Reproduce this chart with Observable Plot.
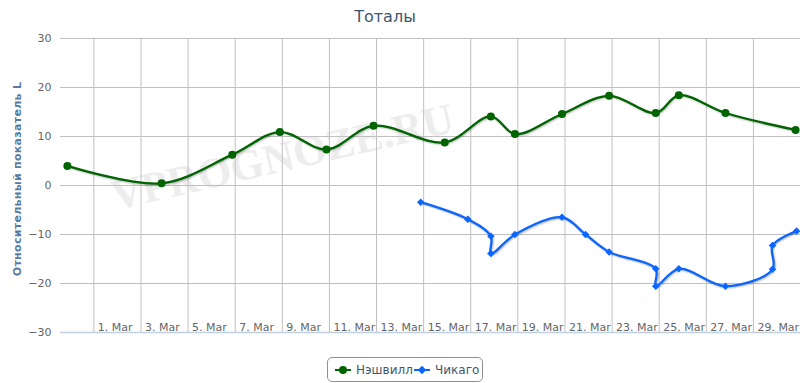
<!DOCTYPE html>
<html><head><meta charset="utf-8">
<script src="https://cdn.jsdelivr.net/npm/d3@7"></script>
<script src="https://cdn.jsdelivr.net/npm/@observablehq/plot@0.6"></script>
<style>
body{margin:0;background:#fff;font-family:"DejaVu Sans",Verdana,sans-serif;}
#wrap{position:relative;width:800px;height:383px;overflow:hidden;background:#fff;}
#title{position:absolute;left:0;width:770px;top:7px;text-align:center;font-size:16px;color:#3E576F;line-height:20px;}
#ylab{position:absolute;left:17px;top:179px;transform:translate(-50%,-50%) rotate(-90deg);white-space:nowrap;font-size:11px;font-weight:bold;letter-spacing:0.3px;color:#5A7BA0;}
#chart{position:absolute;left:0;top:30px;}
#legend{position:absolute;left:327px;top:357px;width:156px;height:25px;box-sizing:border-box;border:1px solid #909090;border-radius:5px;}
.item{position:absolute;top:0;height:23px;display:flex;align-items:center;font-size:12px;color:#3E576F;white-space:nowrap;}
.item svg{margin-right:5px;}
</style>
</head><body>
<div id="wrap">
  <div id="title"></div>
  <div id="ylab"></div>
  <div id="chart"></div>
  <div id="legend"></div>
</div>
<script>
const titleText = "Тоталы";
const yAxisTitle = "Относительный показатель L";
const watermark = "VPROGNOZE.RU";

const seriesNames = ["Нэшвилл", "Чикаго"];
const seriesColors = ["#006400", "#0A66FF"];

const nashDates = ["2013-02-27T21:00","2013-03-03T21:00","2013-03-06T21:00","2013-03-08T21:30","2013-03-10T21:00","2013-03-12T21:00","2013-03-15T21:30","2013-03-17T20:30","2013-03-18T21:00","2013-03-20T21:00","2013-03-22T21:00","2013-03-24T20:30","2013-03-25T20:00","2013-03-27T19:30","2013-03-30T19:00"];
const nashValues = [4.0, 0.45, 6.3, 10.9, 7.35, 12.2, 8.8, 14.1, 10.5, 14.6, 18.3, 14.8, 18.4, 14.8, 11.35];

const chiDates = ["2013-03-14T21:00","2013-03-16T21:00","2013-03-17T20:30","2013-03-17T20:30","2013-03-18T21:00","2013-03-20T21:00","2013-03-21T21:00","2013-03-22T21:00","2013-03-24T20:30","2013-03-24T20:30","2013-03-25T20:00","2013-03-27T19:30","2013-03-29T19:30","2013-03-29T19:30","2013-03-30T20:00"];
const chiValues = [-3.4, -6.9, -10.35, -13.9, -10.0, -6.5, -10.0, -13.55, -17.0, -20.55, -17.0, -20.55, -17.1, -12.25, -9.3];

const tickDates = ["2013-03-01","2013-03-03","2013-03-05","2013-03-07","2013-03-09","2013-03-11","2013-03-13","2013-03-15","2013-03-17","2013-03-19","2013-03-21","2013-03-23","2013-03-25","2013-03-27","2013-03-29"];
const tickLabels = ["1. Mar","3. Mar","5. Mar","7. Mar","9. Mar","11. Mar","13. Mar","15. Mar","17. Mar","19. Mar","21. Mar","23. Mar","25. Mar","27. Mar","29. Mar"];
const yTicks = [-30, -20, -10, 0, 10, 20, 30];
const xDomain = ["2013-02-27T14:00", "2013-03-31T00:00"];

const parse = s => new Date(s + (s.length === 10 ? "T00:00" : "") + "Z");
const nash = nashDates.map((d, i) => ({date: parse(d), value: nashValues[i]}));
const chi = chiDates.map((d, i) => ({date: parse(d), value: chiValues[i]}));
const ticks = tickDates.map((d, i) => ({date: parse(d), label: tickLabels[i]}));

document.getElementById("title").textContent = titleText;
document.getElementById("ylab").textContent = yAxisTitle;

function shadows(data) {
  return [[5, 0.05], [3, 0.1], [1, 0.15]].map(([w, o]) =>
    Plot.line(data, {x: "date", y: "value", curve: "catmull-rom", stroke: "black", strokeOpacity: o, strokeWidth: w, dx: 1, dy: 1}));
}

const chart = Plot.plot({
  width: 800, height: 315,
  marginTop: 8, marginBottom: 13, marginLeft: 60, marginRight: 0,
  style: {background: "transparent", fontFamily: "DejaVu Sans, Verdana, sans-serif", fontSize: "11px", color: "#666"},
  x: {type: "utc", domain: xDomain.map(parse), axis: null},
  y: {domain: [-30, 30], axis: null},
  marks: [
    Plot.text([watermark], {frameAnchor: "middle", dx: -148, dy: -28, rotate: -13, fontSize: 43, fontWeight: "bold", fontFamily: "Liberation Serif, serif", fill: "#ededed", text: d => d}),
    Plot.gridY(yTicks, {stroke: "#C0C0C0", strokeOpacity: 1}),
    Plot.gridX(ticks.map(d => d.date), {stroke: "#C0C0C0", strokeOpacity: 1}),
    Plot.ruleY([-30], {stroke: "#C0D0E0", strokeWidth: 1.5}),
    Plot.axisY(yTicks, {tickSize: 0, tickPadding: 9, label: null, fill: "#666", fontSize: 11}),
    Plot.text(ticks, {x: "date", text: "label", frameAnchor: "bottom", textAnchor: "start", lineAnchor: "bottom", dx: 4, dy: -2, fill: "#666", fontSize: 11}),
    ...shadows(nash),
    Plot.line(nash, {x: "date", y: "value", curve: "catmull-rom", stroke: seriesColors[0], strokeWidth: 2.3}),
    Plot.dot(nash, {x: "date", y: "value", r: 4, fill: seriesColors[0], stroke: "none"}),
    ...shadows(chi),
    Plot.line(chi, {x: "date", y: "value", curve: "catmull-rom", stroke: seriesColors[1], strokeWidth: 2.3}),
    Plot.dot(chi, {x: "date", y: "value", symbol: "square", r: 3, rotate: 45, fill: seriesColors[1], stroke: "none"})
  ]
});
document.getElementById("chart").appendChild(chart);

// legend
const legend = document.getElementById("legend");
const itemLefts = [7, 86];
seriesNames.forEach((name, i) => {
  const it = document.createElement("div");
  it.className = "item";
  it.style.left = itemLefts[i] + "px";
  const marker = i === 0
    ? `<circle cx="8" cy="6" r="4" fill="${seriesColors[i]}"/>`
    : `<rect x="5" y="3" width="6" height="6" fill="${seriesColors[i]}" transform="rotate(45 8 6)"/>`;
  it.innerHTML = `<svg width="16" height="12"><line x1="0" x2="16" y1="6" y2="6" stroke="${seriesColors[i]}" stroke-width="2"/>${marker}</svg><span>${name}</span>`;
  legend.appendChild(it);
});
</script>
</body></html>
